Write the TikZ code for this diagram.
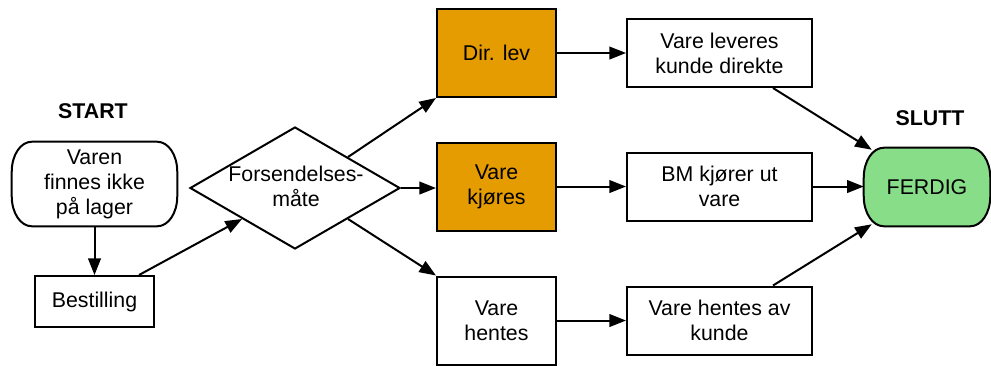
\documentclass[tikz,border=0pt]{standalone}
\usepackage{fontspec}
\setmainfont{Liberation Sans}
\usetikzlibrary{shapes.geometric,arrows.meta,backgrounds}
\newcommand\pxu{0.75pt}
\definecolor{boxorange}{RGB}{229,156,0}
\definecolor{endgreen}{RGB}{136,221,136}
% outline of a terminal node: straight top and bottom, bulging curved sides
\newcommand\termoutline[2]{%
  \draw[line width=1.5pt, fill=#2]
    ([shift={(20,0)}]#1.north west) -- ([shift={(-20,0)}]#1.north east)
    .. controls ([shift={(-9,0)}]#1.north east) and ([shift={(0,13)}]#1.north east) .. ([shift={(0,30)}]#1.north east)
    -- ([shift={(0,-30)}]#1.south east)
    .. controls ([shift={(0,-13)}]#1.south east) and ([shift={(-9,0)}]#1.south east) .. ([shift={(-20,0)}]#1.south east)
    -- ([shift={(20,0)}]#1.south west)
    .. controls ([shift={(9,0)}]#1.south west) and ([shift={(0,-13)}]#1.south west) .. ([shift={(0,-30)}]#1.south west)
    -- ([shift={(0,30)}]#1.north west)
    .. controls ([shift={(0,13)}]#1.north west) and ([shift={(9,0)}]#1.north west) .. cycle;}
\begin{document}
\begin{tikzpicture}[x=0.75pt,y=-0.75pt,
  every node/.style={font=\fontsize{16}{18.75}\selectfont, align=center, inner sep=0pt},
  box/.style={draw, line width=1.5pt, rectangle},
  terminal/.style={rectangle},
  choice/.style={draw, line width=1.5pt, diamond, minimum width=210*\pxu, minimum height=122*\pxu},
  flow/.style={line width=1.5pt, -{Triangle[length=12.5pt,width=9.5pt]}},
  lbl/.style={font=\bfseries\fontsize{16}{18.75}\selectfont}
]
\useasboundingbox (0,0) rectangle (991,365);

% start and order
\node[lbl] (startlbl) at (93,111) {START};
\node[terminal, minimum width=165*\pxu, minimum height=84*\pxu] (start) at (94.5,184) {Varen\\finnes ikke\\på lager};
\node[box, minimum width=119*\pxu, minimum height=51*\pxu] (order) at (94.5,301.5) {Bestilling};

% decision
\node[choice] (ship) at (295,188) {};
\node (shiptext) at (296,186) {Forsendelses-\\måte};

% delivery methods
\node[box, fill=boxorange, minimum width=119*\pxu, minimum height=88*\pxu] (dir) at (496.5,53) {Dir. lev};
\node[box, fill=boxorange, minimum width=119*\pxu, minimum height=88*\pxu] (drive) at (496.5,187) {Vare\\kjøres};
\node[box, minimum width=119*\pxu, minimum height=88*\pxu] (pick) at (496.5,320.5) {Vare\\hentes};

% outcomes
\node[box, minimum width=185*\pxu, minimum height=68*\pxu] (direct) at (719.5,53) {Vare leveres\\kunde direkte};
\node[box, minimum width=185*\pxu, minimum height=68*\pxu] (bm) at (719.5,186.5) {BM kjører ut\\vare};
\node[box, minimum width=185*\pxu, minimum height=68*\pxu] (cust) at (719.5,320.5) {Vare hentes av\\kunde};

% end
\node[lbl] (endlbl) at (930,118) {SLUTT};
\node[terminal, minimum width=126*\pxu, minimum height=78*\pxu] (done) at (927,187) {FERDIG};

% outlines of the two terminal nodes, behind their text
\begin{scope}[on background layer]
  \termoutline{start}{white}
  \termoutline{done}{endgreen}
\end{scope}

% anchor points for the slanted connectors
\coordinate (doneA) at ([shift={(8,2)}]done.north west);
\coordinate (doneC) at ([shift={(8,-2)}]done.south west);
\coordinate (orderA) at ([xshift=-16*\pxu]order.north east);
\coordinate (directA) at ([xshift=53.5*\pxu]direct.south);
\coordinate (custA) at ([xshift=53.5*\pxu]cust.north);

% connectors
\draw[flow] (start) -- (order);
\draw[flow] (orderA) -- (ship.south west);
\draw[flow] (ship.north east) -- (dir.south west);
\draw[flow] (ship.east) -- (drive.west |- ship.east);
\draw[flow] (ship.south east) -- (pick.north west);
\draw[flow] (dir) -- (direct);
\draw[flow] (drive.east |- bm.west) -- (bm.west);
\draw[flow] (pick.east) -- (cust.west |- pick.east);
\draw[flow] (directA) -- (doneA);
\draw[flow] (bm) -- (done.west |- bm.east);
\draw[flow] (custA) -- (doneC);
\end{tikzpicture}
\end{document}
